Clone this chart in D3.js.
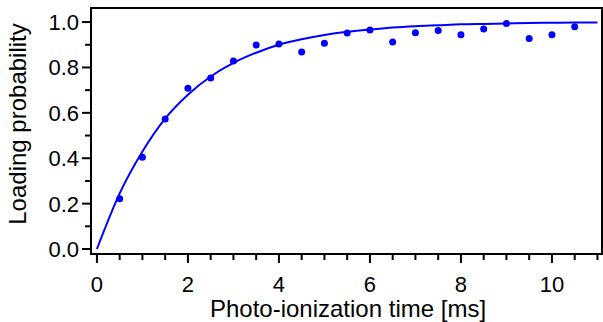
<!DOCTYPE html>
<html>
<head>
<meta charset="utf-8">
<script src="https://cdn.jsdelivr.net/npm/d3@7"></script>
<style>
  body { margin: 0; background: #fff; }
  svg { display: block; font-family: "Liberation Sans", Arial, sans-serif; }
</style>
</head>
<body>
<svg width="603" height="322"></svg>
<script>
// measured points
const times = [0.5, 1.0, 1.5, 2.0, 2.5, 3.0, 3.5, 4.0, 4.5, 5.0, 5.5, 6.0, 6.5, 7.0, 7.5, 8.0, 8.5, 9.0, 9.5, 10.0, 10.5];
const probs = [0.222, 0.404, 0.573, 0.708, 0.753, 0.828, 0.899, 0.903, 0.868, 0.907, 0.952, 0.965, 0.912, 0.953, 0.963, 0.944, 0.969, 0.994, 0.928, 0.944, 0.979];

// fit curve
const fitT = [0, 0.5, 1, 1.5, 2, 2.5, 3, 3.5, 4, 4.5, 5, 5.5, 6, 6.5, 7, 7.5, 8, 8.5, 9, 9.5, 10, 10.5, 11];
const fitP = [0, 0.245, 0.43, 0.575, 0.68, 0.76, 0.82, 0.865, 0.90, 0.924, 0.943, 0.957, 0.967, 0.976, 0.982, 0.986, 0.99, 0.992, 0.994, 0.996, 0.997, 0.998, 0.998];

const xTicks = [0, 2, 4, 6, 8, 10];
const yTicks = [0.0, 0.2, 0.4, 0.6, 0.8, 1.0];

const svg = d3.select("svg");
const mLeft = 91, mRight = 602, mTop = 8, mBottom = 254;

const x = d3.scaleLinear().domain([-0.13, 11.1]).range([mLeft, mRight]);
const y = d3.scaleLinear().domain([-0.022, 1.062]).range([mBottom, mTop]);

// minor ticks
const xMinor = d3.range(0, 11.01, 0.5).filter(v => !xTicks.includes(v));
const yMinor = d3.range(0.1, 1.0, 0.2);

const g = svg.append("g");

g.selectAll(".xminor").data(xMinor).enter().append("line")
    .attr("x1", d => x(d)).attr("x2", d => x(d))
    .attr("y1", mBottom).attr("y2", mBottom + 6)
    .attr("stroke", "#000").attr("stroke-width", 2);
g.selectAll(".xmajor").data(xTicks).enter().append("line")
    .attr("x1", d => x(d)).attr("x2", d => x(d))
    .attr("y1", mBottom).attr("y2", mBottom + 9)
    .attr("stroke", "#000").attr("stroke-width", 2);
g.selectAll(".xlabel").data(xTicks).enter().append("text")
    .attr("x", d => x(d)).attr("y", 292)
    .attr("text-anchor", "middle")
    .attr("font-size", 22)
    .text(d => d);

g.selectAll(".yminor").data(yMinor).enter().append("line")
    .attr("x1", mLeft - 6).attr("x2", mLeft)
    .attr("y1", d => y(d)).attr("y2", d => y(d))
    .attr("stroke", "#000").attr("stroke-width", 2);
g.selectAll(".ymajor").data(yTicks).enter().append("line")
    .attr("x1", mLeft - 9).attr("x2", mLeft)
    .attr("y1", d => y(d)).attr("y2", d => y(d))
    .attr("stroke", "#000").attr("stroke-width", 2);
g.selectAll(".ylabel").data(yTicks).enter().append("text")
    .attr("x", 79).attr("y", d => y(d))
    .attr("dy", "0.36em")
    .attr("text-anchor", "end")
    .attr("font-size", 22)
    .text(d => d.toFixed(1));

// fit line
g.append("path")
    .datum(fitT.map((t, i) => [t, fitP[i]]))
    .attr("fill", "none")
    .attr("stroke", "#0000ff")
    .attr("stroke-width", 2)
    .attr("d", d3.line().x(d => x(d[0])).y(d => y(d[1])).curve(d3.curveMonotoneX));

// data points
g.selectAll(".dot").data(times).enter().append("circle")
    .attr("cx", d => x(d))
    .attr("cy", (d, i) => y(probs[i]))
    .attr("r", 3.5)
    .attr("fill", "#0000ff");

// frame
g.append("rect")
    .attr("x", mLeft).attr("y", mTop)
    .attr("width", mRight - mLeft).attr("height", mBottom - mTop)
    .attr("fill", "none").attr("stroke", "#000").attr("stroke-width", 2);

// axis titles
svg.append("text")
    .attr("x", 348).attr("y", 317)
    .attr("text-anchor", "middle")
    .attr("font-size", 24)
    .text("Photo-ionization time [ms]");

svg.append("text")
    .attr("transform", "translate(26, 124) rotate(-90)")
    .attr("text-anchor", "middle")
    .attr("font-size", 24)
    .text("Loading probability");
</script>
</body>
</html>
